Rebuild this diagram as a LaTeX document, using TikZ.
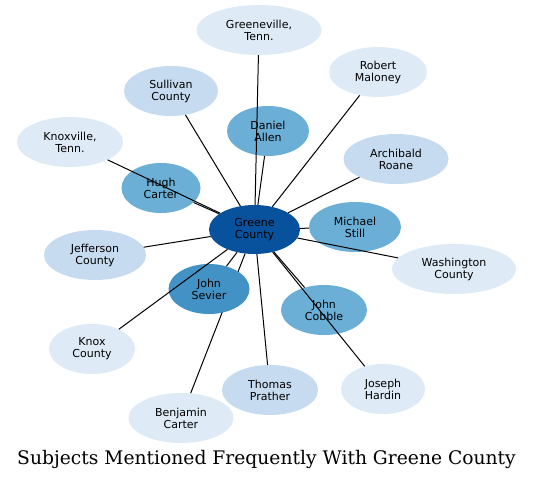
\documentclass[tikz,border=0pt]{standalone}
\usepackage{fontspec}
\setmainfont{DejaVu Sans}
\newfontfamily\titlefont{DejaVu Serif}
\usetikzlibrary{shapes.geometric}
\definecolor{bA}{HTML}{DEEBF7}
\definecolor{bB}{HTML}{C6DBEF}
\definecolor{bC}{HTML}{6BAED6}
\definecolor{bD}{HTML}{4292C6}
\definecolor{bE}{HTML}{08519C}
\tikzset{
  ent/.style={ellipse, inner sep=0pt, draw=none, align=center,
    font=\fontsize{11}{12}\selectfont, text=black},
  link/.style={draw=black, line width=1pt},
}
\begin{document}
\begin{tikzpicture}[x=1pt,y=-1pt]
\useasboundingbox (0,0) rectangle (533,479);
\fill[white] (0,0) rectangle (533,479);
% center and Benjamin Carter first
\node[ent, fill=bE, minimum width=91pt, minimum height=49pt] (gc) at (254.5,229.5) {Greene\\County};
\node[ent, fill=bA, minimum width=105pt, minimum height=50pt] (bc) at (181,418) {Benjamin\\Carter};
\draw[link] (gc) -- (bc);
\node[ent, fill=bD, minimum width=81pt, minimum height=50pt] (js) at (209,289) {John\\Sevier};
\node[ent, fill=bA, minimum width=125pt, minimum height=50pt] (gt) at (259,30) {Greeneville,\\Tenn.};
\node[ent, fill=bA, minimum width=98pt, minimum height=50pt] (rm) at (378,72) {Robert\\Maloney};
\node[ent, fill=bB, minimum width=94pt, minimum height=50pt] (sc) at (171,91) {Sullivan\\County};
\node[ent, fill=bC, minimum width=82pt, minimum height=50pt] (da) at (268,131) {Daniel\\Allen};
\node[ent, fill=bA, minimum width=106pt, minimum height=50pt] (kt) at (70,142) {Knoxville,\\Tenn.};
\node[ent, fill=bB, minimum width=105pt, minimum height=50pt] (ar) at (396,159) {Archibald\\Roane};
\node[ent, fill=bC, minimum width=79pt, minimum height=50pt] (hc) at (161,188) {Hugh\\Carter};
\node[ent, fill=bC, minimum width=92pt, minimum height=50pt] (ms) at (355,227) {Michael\\Still};
\node[ent, fill=bB, minimum width=102pt, minimum height=50pt] (jc) at (95,255) {Jefferson\\County};
\node[ent, fill=bA, minimum width=124pt, minimum height=50pt] (wc) at (454,269) {Washington\\County};
\node[ent, fill=bC, minimum width=86pt, minimum height=50pt] (jo) at (324,310) {John\\Cobble};
\node[ent, fill=bA, minimum width=86pt, minimum height=50pt] (kc) at (92,349) {Knox\\County};
\node[ent, fill=bB, minimum width=96pt, minimum height=50pt] (tp) at (270,390) {Thomas\\Prather};
\node[ent, fill=bA, minimum width=84pt, minimum height=50pt] (jh) at (383,389) {Joseph\\Hardin};
% remaining connectors, drawn over the nodes
\foreach \t in {gt,rm,sc,da,kt,ar,hc,ms,jc,wc,js,jo,kc,tp,jh}
  \draw[link] (gc) -- (\t);
\node[font=\titlefont\fontsize{18.7}{22}\selectfont, anchor=base] (title) at (266.5,464) {Subjects Mentioned Frequently With Greene County};
\end{tikzpicture}
\end{document}
